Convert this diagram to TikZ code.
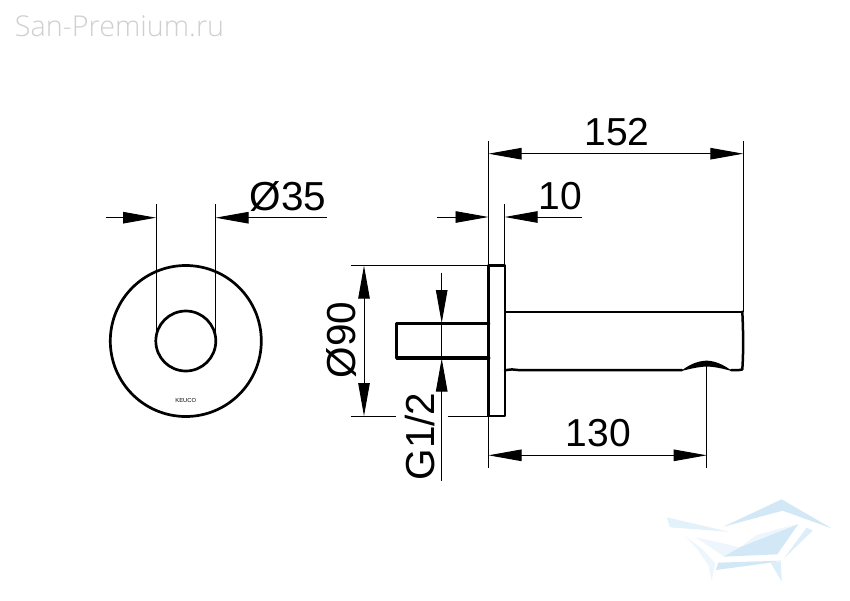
\documentclass[tikz,border=0pt]{standalone}
\usepackage{fontspec}
\usetikzlibrary{arrows.meta}
\setmainfont{Liberation Sans}
\newfontfamily\wmfont{Open Sans Light}
\definecolor{wma}{HTML}{D2E8F6}
\definecolor{wmb}{HTML}{E2F1FA}
\definecolor{wmc}{HTML}{EDF6FC}
\definecolor{wmd}{HTML}{DCEEF9}
\tikzset{
  thin line/.style={line width=0.95pt,black},
  thick line/.style={line width=2.7pt,black,line join=round,line cap=round},
  stub line/.style={line width=3.4pt,black,line join=round,line cap=round},
  dimarrow/.style={thin line,{Triangle[length=33pt,width=11.5pt,fill=black]}-{Triangle[length=33pt,width=11.5pt,fill=black]}},
  inarrow/.style={thin line,-{Triangle[length=33pt,width=11.5pt,fill=black]}},
  dimtext/.style={inner sep=0pt,font=\fontsize{39}{39}\selectfont},
  widetext/.style={inner sep=0pt,font=\fontsize{40.5}{40.5}\selectfont},
}
\begin{document}
\begin{tikzpicture}[x=1pt,y=-1pt]
\useasboundingbox (0,0) rectangle (850,600);
\fill[white] (0,0) rectangle (850,600);

% watermark
\node[inner sep=0pt,text=black!19,font=\wmfont\fontsize{28.7}{28.7}\selectfont] (brand) at (119.5,26) {San-Premium.ru};
\begin{scope}[shift={(660,490)},x=0.3333pt,y=-0.3333pt]
  \fill[wma] (190,110) -- (365,28) -- (515,115) -- (368,62) -- cycle;
  \fill[wmb] (20,82) -- (205,125) -- (30,112) -- cycle;
  \fill[wmc] (108,142) -- (240,172) -- (290,135) -- (400,105) -- (190,198) -- cycle;
  \fill[wma] (190,200) -- (240,172) -- (415,102) -- (352,193) -- cycle;
  \fill[wmd] (440,113) -- (458,122) -- (372,205) -- cycle;
  \fill[wma] (175,218) -- (362,212) -- (332,218) -- (168,240) -- cycle;
  \fill[wmd] (332,218) -- (362,214) -- (365,275) -- cycle;
  \fill[wmc] (75,138) -- (130,180) -- (165,220) -- (155,272) -- (145,225) -- (110,175) -- cycle;
\end{scope}

% front view
\coordinate (c) at (185.8,341);
\draw[thick line] (c) circle[radius=75.5];
\draw[thick line] (c) circle[radius=30];
\coordinate (e1t) at (156,204.3); \coordinate (e1b) at (156,341);
\coordinate (e2t) at (215.5,204.3); \coordinate (e2b) at (215.5,341);
\draw[thin line] (e1t) -- (e1b);
\draw[thin line] (e2t) -- (e2b);
\coordinate (d1a) at (105.7,217.7); \coordinate (d1b) at (156,217.7);
\coordinate (d2a) at (327,217.7); \coordinate (d2b) at (215.5,217.7);
\draw[inarrow] (d1a) -- (d1b);
\draw[inarrow] (d2a) -- (d2b);
\node[inner sep=0pt,font=\fontsize{5.8}{5.8}\selectfont] (logo) at (185.8,400) {KEUCO};
\node[widetext] (t35) at (288,197) {Ø35};

% side view
\coordinate (fa) at (488.7,265.7); \coordinate (fb) at (505,416);
\draw[thick line] (fa) rectangle (fb);
\draw[stub line] (488.7,323.5) -- (396.7,323.5) -- (396.7,358) -- (488.7,358);
% spout
\draw[line width=1.9pt] (505,311.7) -- (742.5,311.7);
\draw[line width=2.5pt,line cap=round,line join=round] (505,370.2) -- (512,369.4) -- (520,370.2) -- (682,370.2);
\draw[line width=2.5pt,line cap=round,line join=round] (731,370) .. controls (734,370.6) .. (738,370.2) -- (742.3,369.5) .. controls (743.6,350) and (743.2,330) .. (742.3,311.7);
\fill[black] (681,371) .. controls (690,364) and (698,361) .. (706.7,360.6) .. controls (716,361) and (724,365) .. (732,371) .. controls (724,369) and (716,366.8) .. (706.7,366.5) .. controls (698,366.8) and (690,369) .. (681,371) -- cycle;

% dim 152
\coordinate (l1) at (488.5,140.7); \coordinate (l2) at (488.5,468);
\coordinate (r1) at (743.3,140.7); \coordinate (r2) at (743.3,311.7);
\draw[thin line] (l1) -- (l2);
\draw[thin line] (r1) -- (r2);
\coordinate (a152) at (488.5,153.7); \coordinate (b152) at (743.3,153.7);
\draw[dimarrow] (a152) -- (b152);
\node[dimtext] (t152) at (617,132.5) {152};

% dim 10
\coordinate (m1) at (504.7,204.3); \coordinate (m2) at (504.7,266);
\draw[thin line] (m1) -- (m2);
\coordinate (a10) at (437.3,217); \coordinate (b10) at (488.5,217);
\coordinate (c10) at (582,217); \coordinate (d10) at (504.7,217);
\draw[inarrow] (a10) -- (b10);
\draw[inarrow] (c10) -- (d10);
\node[dimtext] (t10) at (560,196) {10};

% dim 130
\coordinate (n1) at (706.7,366); \coordinate (n2) at (706.7,468);
\draw[thin line] (n1) -- (n2);
\coordinate (a130) at (488.5,455.3); \coordinate (b130) at (706.7,455.3);
\draw[dimarrow] (a130) -- (b130);
\node[dimtext] (t130) at (598.5,433) {130};

% dim 90
\coordinate (h1) at (350.7,265.7); \coordinate (h2) at (350.7,416);
\coordinate (h3) at (395.7,416); \coordinate (h4) at (447.7,416);
\draw[thin line] (h1) -- (fa);
\draw[thin line] (h2) -- (h3);
\draw[thin line] (h4) -- (488.7,416);
\coordinate (a90) at (364,265.7); \coordinate (b90) at (364,416);
\draw[dimarrow] (a90) -- (b90);
\node[widetext,rotate=90] (t90) at (341.5,340) {Ø90};

% G1/2
\coordinate (g1) at (441.7,272.7); \coordinate (g2) at (441.7,323);
\coordinate (g3) at (441.7,481); \coordinate (g4) at (441.7,358.5);
\draw[inarrow] (g1) -- (g2);
\draw[inarrow] (g3) -- (g4);
\draw[thin line] (g2) -- (g4);
\node[widetext,rotate=90] (tg) at (420,436.5) {G1/2};
\end{tikzpicture}
\end{document}
